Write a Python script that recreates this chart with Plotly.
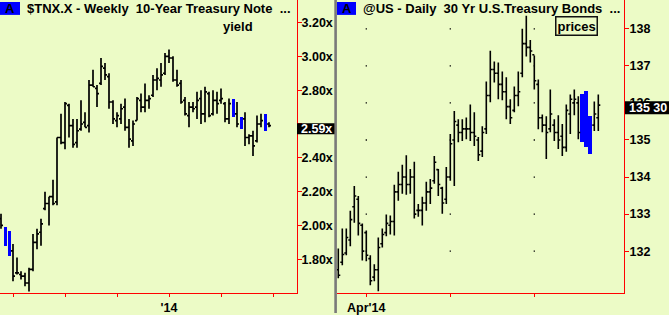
import plotly.graph_objects as go

W, H = 669, 315
BG = "#ECFBC6"
TXT = "#000000"
FONT = "Liberation Sans, Arial, sans-serif"

# ---------------- Left panel: $TNX.X weekly (yield) ----------------
tnx_week = list(range(68))
tnx_high = [2.07, 1.99, 1.97, 1.89, 1.81, 1.73, 1.72, 1.75, 1.95, 1.98,
            2.04, 2.20, 2.17, 2.27, 2.52, 2.66, 2.73, 2.72, 2.63, 2.63,
            2.74, 2.67, 2.86, 2.92, 2.83, 2.99, 2.96, 2.90, 2.74, 2.67,
            2.72, 2.75, 2.63, 2.62, 2.76, 2.78, 2.84, 2.77, 2.89, 2.93,
            2.96, 3.02, 3.04, 3.00, 2.92, 2.86, 2.76, 2.73, 2.73, 2.79,
            2.80, 2.82, 2.79, 2.80, 2.79, 2.81, 2.73, 2.75, 2.75, 2.73,
            2.64, 2.67, 2.54, 2.56, 2.65, 2.66, 2.66, 2.61]
tnx_low = [1.98, 1.88, 1.82, 1.67, 1.71, 1.68, 1.64, 1.61, 1.73, 1.86,
           1.88, 2.09, 2.00, 2.12, 2.12, 2.48, 2.45, 2.52, 2.46, 2.46,
           2.56, 2.58, 2.55, 2.82, 2.70, 2.83, 2.86, 2.69, 2.60, 2.58,
           2.60, 2.56, 2.46, 2.47, 2.62, 2.67, 2.67, 2.69, 2.76, 2.80,
           2.82, 2.89, 2.96, 2.85, 2.82, 2.72, 2.65, 2.58, 2.67, 2.63,
           2.60, 2.61, 2.64, 2.65, 2.66, 2.72, 2.61, 2.60, 2.64, 2.58,
           2.57, 2.47, 2.48, 2.41, 2.49, 2.58, 2.56, 2.58]
tnx_open = [2.04, 1.97, 1.90, 1.85, 1.72, 1.71, 1.70, 1.66, 1.74, 1.90,
            1.96, 2.10, 2.13, 2.17, 2.14, 2.52, 2.49, 2.71, 2.59, 2.49,
            2.57, 2.61, 2.59, 2.83, 2.81, 2.84, 2.93, 2.88, 2.73, 2.62,
            2.63, 2.70, 2.58, 2.50, 2.62, 2.74, 2.70, 2.74, 2.77, 2.86,
            2.86, 2.90, 3.00, 2.99, 2.86, 2.84, 2.74, 2.65, 2.70, 2.70,
            2.75, 2.66, 2.78, 2.66, 2.74, 2.74, 2.72, 2.63, 2.72, 2.66,
            2.62, 2.63, 2.52, 2.53, 2.50, 2.60, 2.64, 2.60]
tnx_close = [2.00, 1.90, 1.85, 1.70, 1.72, 1.70, 1.66, 1.74, 1.90, 1.95,
             2.01, 2.13, 2.17, 2.13, 2.52, 2.49, 2.72, 2.59, 2.48, 2.56,
             2.60, 2.58, 2.83, 2.82, 2.78, 2.94, 2.89, 2.73, 2.63, 2.65,
             2.69, 2.58, 2.51, 2.60, 2.75, 2.70, 2.74, 2.75, 2.86, 2.87,
             2.89, 3.00, 2.99, 2.86, 2.83, 2.73, 2.66, 2.70, 2.69, 2.74,
             2.66, 2.79, 2.65, 2.74, 2.72, 2.75, 2.63, 2.72, 2.66, 2.60,
             2.58, 2.52, 2.53, 2.47, 2.60, 2.62, 2.57, 2.59]
tnx_blue_weeks = [1, 2, 58, 60, 66]
tnx_yticks = [1.80, 2.00, 2.20, 2.40, 2.60, 2.80, 3.00, 3.20]
# the 2.60x label sits under the last-value tag, so it is not printed
tnx_ylabels = ["1.80x", "2.00x", "2.20x", "2.40x", "", "2.80x", "3.00x", "3.20x"]
tnx_xticks = [3, 16, 29, 42, 55, 68]
tnx_xlabels = ["", "", "", "'14", "", ""]
tnx_last_label = "2.59x"
tnx_last_value = 2.59

# ---------------- Right panel: @US daily (prices) ----------------
us_day = list(range(66))
us_high = [132.07, 132.61, 132.61, 133.09, 133.76, 133.49, 132.75, 132.56, 131.89, 131.65,
           132.37, 132.61, 132.99, 132.96, 133.79, 134.14, 134.33, 134.59, 134.22, 134.41,
           133.27, 133.47, 133.87, 133.95, 134.57, 134.22, 133.74, 134.27, 135.16, 135.78,
           135.56, 135.56, 135.61, 135.96, 135.75, 135.08, 135.37, 136.58, 137.41, 137.12,
           137.09, 136.85, 136.69, 136.10, 136.44, 136.85, 138.00, 138.35, 137.70, 137.28,
           136.63, 135.69, 135.64, 136.36, 135.56, 135.67, 135.43, 135.96, 136.23, 136.36,
           136.18, 136.23, 136.31, 135.64, 136.04, 136.23]
us_low = [131.27, 131.62, 131.89, 132.13, 132.77, 132.42, 131.75, 131.73, 131.08, 131.19,
          130.92, 132.10, 132.40, 132.45, 132.42, 133.36, 133.55, 133.52, 133.55, 132.88,
          132.93, 132.69, 133.09, 133.27, 133.82, 133.49, 133.01, 133.27, 133.90, 133.76,
          134.94, 134.97, 135.02, 134.97, 134.84, 134.43, 134.54, 135.16, 136.02, 136.55,
          136.10, 136.07, 135.56, 135.43, 135.75, 135.91, 136.69, 137.25, 137.09, 136.36,
          135.29, 135.21, 134.49, 135.21, 134.97, 134.76, 134.57, 134.68, 135.16, 135.67,
          135.02, 134.94, 134.81, 134.62, 135.24, 135.24]
us_open = [131.50, 131.70, 131.95, 132.30, 133.20, 133.40, 132.70, 132.50, 131.80, 131.30,
           131.50, 132.20, 132.50, 132.70, 132.80, 133.60, 133.80, 134.00, 133.80, 134.00,
           133.10, 133.10, 133.30, 133.60, 133.90, 134.20, 133.70, 133.40, 134.00, 135.00,
           135.40, 135.20, 135.30, 135.30, 135.20, 135.00, 134.70, 135.30, 136.20, 136.90,
           136.80, 136.50, 136.30, 135.90, 135.80, 136.20, 136.80, 137.60, 137.50, 137.30,
           136.50, 135.60, 135.40, 135.30, 135.40, 135.20, 135.10, 134.80, 135.70, 136.00,
           136.00, 135.30, 136.00, 135.40, 135.40, 135.60]
us_close = [131.35, 131.91, 132.37, 132.85, 133.49, 132.75, 132.00, 131.89, 131.20, 131.50,
            132.10, 132.45, 132.75, 132.80, 133.60, 133.80, 134.00, 133.80, 134.00, 133.00,
            133.10, 133.30, 133.60, 133.70, 134.40, 133.80, 133.30, 134.00, 134.90, 135.50,
            135.20, 135.30, 135.30, 135.20, 135.10, 134.60, 135.20, 136.20, 136.90, 136.80,
            136.50, 136.30, 135.90, 135.60, 136.20, 136.30, 137.60, 137.50, 137.40, 136.60,
            135.60, 135.40, 135.20, 135.70, 135.20, 135.00, 134.80, 135.80, 136.10, 136.10,
            135.20, 135.10, 135.00, 135.50, 135.70, 135.94]
us_blue_days = [61, 62, 63]
us_yticks = [132, 133, 134, 135, 136, 137, 138]
us_xticks = [7, 28, 49]
us_xlabels = ["Apr'14", "", ""]
us_last_label = "135 30"
us_last_value = 135 + 30 / 32

# ---------------- figure ----------------
plot_bottom = 295
ydom = [1 - plot_bottom / H, 1]
x1dom = [0, 297 / W]
x2dom = [337 / W, 624 / W]

fig = go.Figure()

keep_l = [i for i in tnx_week if i not in tnx_blue_weeks]
fig.add_trace(go.Ohlc(
    x=[tnx_week[i] for i in keep_l],
    open=[tnx_open[i] for i in keep_l], high=[tnx_high[i] for i in keep_l],
    low=[tnx_low[i] for i in keep_l], close=[tnx_close[i] for i in keep_l],
    increasing=dict(line=dict(color="black", width=1.7)),
    decreasing=dict(line=dict(color="black", width=1.7)),
    tickwidth=0.5, xaxis="x", yaxis="y", showlegend=False, hoverinfo="skip"))
fig.add_trace(go.Bar(
    x=[tnx_week[i] for i in tnx_blue_weeks],
    y=[tnx_high[i] - tnx_low[i] for i in tnx_blue_weeks],
    base=[tnx_low[i] for i in tnx_blue_weeks],
    width=0.75, marker=dict(color="#0000FF", line=dict(width=0)),
    xaxis="x", yaxis="y", showlegend=False, hoverinfo="skip"))

keep_r = [i for i in us_day if i not in us_blue_days]
fig.add_trace(go.Ohlc(
    x=[us_day[i] for i in keep_r],
    open=[us_open[i] for i in keep_r], high=[us_high[i] for i in keep_r],
    low=[us_low[i] for i in keep_r], close=[us_close[i] for i in keep_r],
    increasing=dict(line=dict(color="black", width=1.6)),
    decreasing=dict(line=dict(color="black", width=1.6)),
    tickwidth=0.5, xaxis="x2", yaxis="y2", showlegend=False, hoverinfo="skip"))
fig.add_trace(go.Bar(
    x=[us_day[i] for i in us_blue_days],
    y=[us_high[i] - us_low[i] for i in us_blue_days],
    base=[us_low[i] for i in us_blue_days],
    width=1.0, marker=dict(color="#0000FF", line=dict(width=0)),
    xaxis="x2", yaxis="y2", showlegend=False, hoverinfo="skip"))
fig.add_trace(go.Scatter(
    x=[xv for xv in us_xticks for yv in us_yticks],
    y=[yv for xv in us_xticks for yv in us_yticks],
    mode="markers", marker=dict(symbol="square", size=1.3, color="black"),
    xaxis="x2", yaxis="y2", showlegend=False, hoverinfo="skip"))

tickfont = dict(family=FONT, size=12.5, color=TXT, weight="bold")
axis_common = dict(showgrid=False, zeroline=False, showline=True, linecolor="red",
                   linewidth=1, ticks="outside", tickcolor="red", tickfont=tickfont,
                   fixedrange=True)

fig.update_layout(
    width=W, height=H, margin=dict(l=0, r=0, t=0, b=0),
    paper_bgcolor=BG, plot_bgcolor=BG, bargap=0, barmode="overlay",
    xaxis=dict(domain=x1dom, range=[-0.25, 74], tickvals=tnx_xticks, ticktext=tnx_xlabels,
               ticklen=3, anchor="y", rangeslider=dict(visible=False), **axis_common),
    yaxis=dict(domain=ydom, range=[1.600, 3.333], tickvals=tnx_yticks, ticktext=tnx_ylabels,
               side="right", ticklen=4, anchor="x", ticklabelstandoff=-3,
               **axis_common),
    xaxis2=dict(domain=x2dom, range=[-0.325, 71.425], tickvals=us_xticks, ticktext=us_xlabels,
                ticklen=3, anchor="y2", rangeslider=dict(visible=False), **axis_common),
    yaxis2=dict(domain=ydom, range=[130.868, 138.777], tickvals=us_yticks,
                side="right", ticklen=4, anchor="x2", ticklabelstandoff=-2, **axis_common),
)

shapes = []
annotations = []
titlefont = dict(family=FONT, size=13, color=TXT, weight="bold")

shapes.append(dict(type="line", xref="paper", yref="paper", x0=335.6 / W, x1=335.6 / W,
                   y0=0, y1=1, line=dict(color="#7a7a7a", width=2.6), layer="above"))

for x0, x1, title in [(0, 20, "$TNX.X - Weekly\u00a0 10-Year Treasury Note\u00a0 ..."),
                      (337, 356, "@US - Daily\u00a0 30 Yr U.S.Treasury Bonds\u00a0 ...")]:
    shapes.append(dict(type="rect", xref="paper", yref="paper", x0=x0 / W, x1=x1 / W,
                       y0=1 - 15 / H, y1=1 - 2 / H, fillcolor="#0000FF", line=dict(width=0),
                       layer="above"))
    annotations.append(dict(text="A", xref="paper", yref="paper", x=(x0 + x1) / 2 / W,
                            y=1 - 8.5 / H, xanchor="center", yanchor="middle",
                            showarrow=False, font=titlefont))
    annotations.append(dict(text=title, xref="paper", yref="paper", x=(x1 + 5) / W,
                            y=1 - 8.5 / H, xanchor="left", yanchor="middle",
                            showarrow=False, font=titlefont))

annotations.append(dict(text="yield", xref="paper", yref="paper", x=238 / W, y=1 - 27 / H,
                        xanchor="center", yanchor="middle", showarrow=False, font=titlefont))
annotations.append(dict(text="prices", xref="paper", yref="paper", x=576 / W, y=1 - 26.5 / H,
                        xanchor="center", yanchor="middle", showarrow=False,
                        font=dict(family=FONT, size=13, color=TXT, weight="bold"),
                        bordercolor="#111", borderwidth=1.5, borderpad=1))

for ax, val, lab, x0, x1, up, down in [("y", tnx_last_value, tnx_last_label, 297, 334.5, 2.5, 8.5),
                                       ("y2", us_last_value, us_last_label, 625, 669, 3.9, 9.1)]:
    shapes.append(dict(type="rect", xref="paper", yref=ax, ysizemode="pixel", yanchor=val,
                       x0=x0 / W, x1=x1 / W, y0=-down, y1=up, fillcolor="black",
                       line=dict(width=0), layer="above"))
    annotations.append(dict(text=lab, xref="paper", yref=ax, x=(x0 + 2) / W, y=val,
                            yshift=-(down - up) / 2,
                            xanchor="left", yanchor="middle", showarrow=False,
                            font=dict(family=FONT, size=12.5, color="white", weight="bold")))

fig.update_layout(shapes=shapes, annotations=annotations)
fig.write_html("out.html")
